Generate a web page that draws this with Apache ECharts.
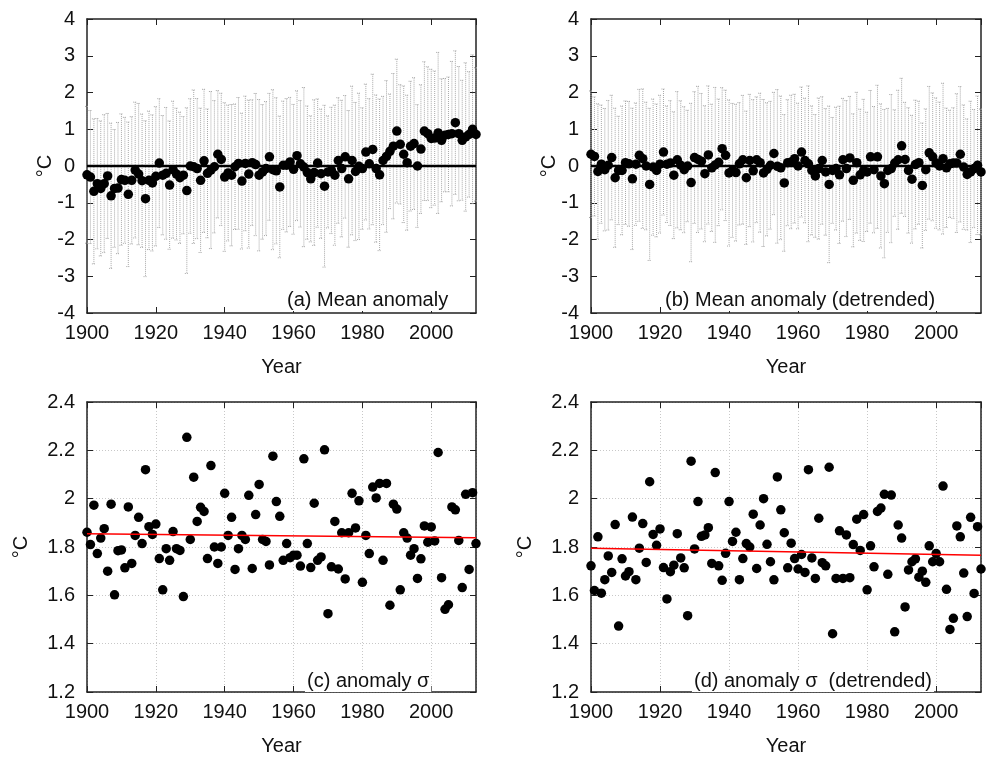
<!DOCTYPE html>
<html>
<head>
<meta charset="utf-8">
<script src="https://cdn.jsdelivr.net/npm/echarts@6/dist/echarts.min.js"></script>
<style>
  html, body { margin: 0; padding: 0; background: #fff; }
  #app { width: 986px; height: 757px; }
</style>
</head>
<body>
<div id="app"></div>
<script>
// years 1900..2013
const firstYear = 1900;
const lastYear = 2013;

// (a) mean anomaly, one value per year
const meanAnomaly = [
  -0.24, -0.30, -0.69, -0.48, -0.61, -0.48, -0.27, -0.81, -0.61, -0.60,
  -0.37, -0.39, -0.77, -0.39, -0.11, -0.22, -0.40, -0.89, -0.39, -0.46,
  -0.28, 0.08, -0.25, -0.20, -0.52, -0.10, -0.22, -0.32, -0.25, -0.67,
  0.00, -0.02, -0.07, -0.39, 0.14, -0.20, -0.11, -0.02, 0.32, 0.18,
  -0.30, -0.19, -0.25, -0.02, 0.07, -0.41, 0.07, -0.22, 0.09, 0.04,
  -0.25, -0.16, -0.07, 0.25, -0.10, -0.13, -0.57, 0.02, 0.02, 0.11,
  -0.09, 0.28, 0.06, -0.03, -0.18, -0.35, -0.18, 0.08, -0.21, -0.55,
  -0.16, -0.12, -0.25, 0.15, -0.07, 0.25, -0.35, 0.15, -0.15, -0.01,
  -0.07, 0.38, 0.06, 0.45, -0.07, -0.24, 0.15, 0.26, 0.40, 0.54,
  0.95, 0.59, 0.32, 0.09, 0.54, 0.61, 0.00, 0.46, 0.95, 0.88,
  0.75, 0.76, 0.90, 0.70, 0.84, 0.86, 0.88, 1.18, 0.88, 0.70,
  0.79, 0.86, 1.00, 0.86
];

// (b) mean anomaly, detrended
const meanDetrended = [
  0.32, 0.26, -0.15, 0.05, -0.10, 0.02, 0.23, -0.32, -0.12, -0.12,
  0.09, 0.06, -0.35, 0.05, 0.29, 0.20, 0.00, -0.50, -0.03, -0.12,
  0.05, 0.38, 0.05, 0.08, -0.25, 0.17, 0.02, -0.10, 0.00, -0.45,
  0.23, 0.18, 0.13, -0.21, 0.30, -0.05, 0.03, 0.10, 0.47, 0.29,
  -0.19, -0.12, -0.18, 0.06, 0.17, -0.32, 0.15, -0.13, 0.17, 0.09,
  -0.19, -0.09, 0.02, 0.34, -0.01, -0.05, -0.46, 0.09, 0.11, 0.20,
  0.00, 0.38, 0.15, 0.06, -0.12, -0.27, -0.07, 0.15, -0.16, -0.50,
  -0.12, -0.07, -0.24, 0.17, -0.07, 0.22, -0.39, 0.09, -0.24, -0.12,
  -0.16, 0.25, -0.10, 0.25, -0.27, -0.48, -0.12, -0.07, 0.08, 0.17,
  0.55, 0.18, -0.12, -0.36, 0.04, 0.09, -0.53, -0.10, 0.36, 0.25,
  0.08, 0.00, 0.20, -0.05, 0.06, 0.08, 0.08, 0.32, -0.03, -0.23,
  -0.16, -0.07, 0.02, -0.16
];

// (c) anomaly sigma
const sigmaAnomaly = [
  1.861, 1.810, 1.973, 1.773, 1.837, 1.876, 1.700, 1.977, 1.602, 1.785,
  1.788, 1.714, 1.966, 1.732, 1.848, 1.923, 1.814, 2.120, 1.884, 1.852,
  1.895, 1.752, 1.623, 1.793, 1.745, 1.864, 1.793, 1.786, 1.595, 2.254,
  1.831, 2.089, 1.906, 1.964, 1.947, 1.752, 2.137, 1.800, 1.732, 1.800,
  2.022, 1.848, 1.923, 1.707, 1.793, 1.848, 1.831, 2.014, 1.711, 1.934,
  2.059, 1.831, 1.823, 1.726, 2.176, 1.988, 1.927, 1.745, 1.814, 1.756,
  1.766, 1.766, 1.721, 2.165, 1.814, 1.715, 1.981, 1.745, 1.759, 2.202,
  1.524, 1.718, 1.906, 1.709, 1.859, 1.668, 1.859, 2.022, 1.879, 1.991,
  1.654, 1.848, 1.773, 2.048, 2.003, 2.063, 1.745, 2.063, 1.559, 1.977,
  1.957, 1.623, 1.859, 1.837, 1.766, 1.793, 1.670, 1.751, 1.887, 1.820,
  1.883, 1.825, 2.191, 1.673, 1.542, 1.561, 1.966, 1.954, 1.827, 1.632,
  2.018, 1.707, 2.025, 1.814
];

// (d) anomaly sigma, detrended
const sigmaDetrended = [
  1.722, 1.620, 1.842, 1.609, 1.665, 1.763, 1.695, 1.893, 1.473, 1.751,
  1.680, 1.698, 1.924, 1.665, 1.795, 1.897, 1.736, 2.070, 1.852, 1.807,
  1.875, 1.715, 1.585, 1.698, 1.725, 1.855, 1.755, 1.714, 1.516, 2.155,
  1.792, 1.988, 1.844, 1.850, 1.880, 1.732, 2.108, 1.722, 1.662, 1.774,
  1.988, 1.823, 1.861, 1.665, 1.752, 1.814, 1.800, 1.936, 1.711, 1.891,
  2.000, 1.811, 1.739, 1.664, 2.090, 1.954, 1.859, 1.714, 1.816, 1.752,
  1.709, 1.769, 1.695, 2.120, 1.755, 1.670, 1.919, 1.735, 1.722, 2.130,
  1.441, 1.670, 1.867, 1.670, 1.850, 1.673, 1.810, 1.915, 1.786, 1.934,
  1.623, 1.805, 1.718, 1.947, 1.961, 2.018, 1.687, 2.015, 1.449, 1.891,
  1.837, 1.552, 1.705, 1.739, 1.751, 1.675, 1.700, 1.654, 1.805, 1.739,
  1.773, 1.739, 2.052, 1.625, 1.459, 1.505, 1.887, 1.842, 1.692, 1.512,
  1.923, 1.608, 1.884, 1.709
];

// red trend lines, value at first and last year
const trendSigma = [1.855, 1.838];
const trendSigmaDetrended = [1.795, 1.766];

const panelLabels = ['(a) Mean anomaly', '(b) Mean anomaly (detrended)', '(c) anomaly \u03c3', '(d) anomaly \u03c3  (detrended)'];

const years = [];
for (let y = firstYear; y <= lastYear; y++) years.push(y);

const FONT = '"Liberation Sans", Arial, Helvetica, sans-serif';
const chart = echarts.init(document.getElementById('app'));

const grids = [
  {left: 87, top: 19, width: 389, height: 294},
  {left: 591, top: 19, width: 390, height: 294},
  {left: 87, top: 402, width: 389, height: 293},
  {left: 591, top: 402, width: 390, height: 293}
];

const tickStyle = {inside: true, length: 6, lineStyle: {color: '#222', width: 1}};
const lineStyle = {color: '#222', width: 1.5};
const gridLine = {show: true, lineStyle: {color: '#c8c8c8', type: [1, 2], width: 1}};

const xAxes = [];
const yAxes = [];
grids.forEach((g, i) => {
  const bottomPanel = i >= 2;
  xAxes.push({
    gridIndex: i, type: 'value', min: firstYear, max: lastYear, interval: 20,
    name: 'Year', nameLocation: 'middle', nameGap: 44,
    nameTextStyle: {fontSize: 20, fontFamily: FONT, color: '#111'},
    axisLine: {show: true, onZero: false, lineStyle},
    axisTick: tickStyle,
    axisLabel: {
      fontSize: 20, fontFamily: FONT, color: '#111', margin: 10, showMaxLabel: false,
      formatter: v => (v % 20 === 0 ? String(v) : '')
    },
    splitLine: bottomPanel ? gridLine : {show: false}
  });
  xAxes.push({
    gridIndex: i, type: 'value', position: 'top', min: firstYear, max: lastYear, interval: 20,
    axisLine: {show: true, onZero: false, lineStyle},
    axisTick: tickStyle, axisLabel: {show: false}, splitLine: {show: false}
  });
  const yRange = bottomPanel ? {min: 1.2, max: 2.4, interval: 0.2} : {min: -4, max: 4, interval: 1};
  yAxes.push(Object.assign({
    gridIndex: i, type: 'value',
    name: '\u00b0C', nameLocation: 'middle', nameMoveOverlap: false,
    nameGap: bottomPanel ? 56 : 32,
    nameTextStyle: {fontSize: 20, fontFamily: FONT, color: '#111'},
    axisLine: {show: true, onZero: false, lineStyle},
    axisTick: tickStyle,
    axisLabel: {fontSize: 20, fontFamily: FONT, color: '#111', margin: 12},
    splitLine: bottomPanel ? gridLine : {show: false}
  }, yRange));
  yAxes.push(Object.assign({
    gridIndex: i, type: 'value', position: 'right',
    axisLine: {show: true, onZero: false, lineStyle},
    axisTick: tickStyle, axisLabel: {show: false}, splitLine: {show: false}
  }, yRange));
});

// gray dotted error bars: mean +- sigma
function errorBar(params, api) {
  const x = api.value(0);
  const top = api.coord([x, api.value(2)]);
  const bot = api.coord([x, api.value(1)]);
  const style = {stroke: '#a8a8a8', lineWidth: 1, lineDash: [1, 1]};
  return {
    type: 'group',
    children: [
      {type: 'line', shape: {x1: top[0], y1: top[1], x2: bot[0], y2: bot[1]}, style},
      {type: 'line', shape: {x1: top[0] - 2, y1: top[1], x2: top[0] + 2, y2: top[1]}, style},
      {type: 'line', shape: {x1: bot[0] - 2, y1: bot[1], x2: bot[0] + 2, y2: bot[1]}, style}
    ]
  };
}

const dotStyle = {color: '#000', opacity: 1};

const series = [];
const addMeanPanel = (i, means, sigmas) => {
  series.push({
    type: 'custom', xAxisIndex: 2 * i, yAxisIndex: 2 * i, z: 1, silent: true,
    renderItem: errorBar,
    encode: {x: 0, y: [1, 2]},
    data: years.map((y, k) => [y, means[k] - sigmas[k], means[k] + sigmas[k]])
  });
  series.push({
    type: 'line', xAxisIndex: 2 * i, yAxisIndex: 2 * i, z: 2, symbol: 'none', silent: true,
    lineStyle: {color: '#000', width: 2.5},
    data: [[firstYear, 0], [lastYear, 0]]
  });
  series.push({
    type: 'scatter', xAxisIndex: 2 * i, yAxisIndex: 2 * i, z: 3, symbolSize: 9.5,
    itemStyle: dotStyle,
    data: years.map((y, k) => [y, means[k]])
  });
};
const addSigmaPanel = (i, sigmas, trend) => {
  series.push({
    type: 'scatter', xAxisIndex: 2 * i, yAxisIndex: 2 * i, z: 3, symbolSize: 9.5,
    itemStyle: dotStyle,
    data: years.map((y, k) => [y, sigmas[k]])
  });
  series.push({
    type: 'line', xAxisIndex: 2 * i, yAxisIndex: 2 * i, z: 4, symbol: 'none', silent: true,
    lineStyle: {color: '#ff0000', width: 1.5},
    data: [[firstYear, trend[0]], [lastYear, trend[1]]]
  });
};
addMeanPanel(0, meanAnomaly, sigmaAnomaly);
addMeanPanel(1, meanDetrended, sigmaDetrended);
addSigmaPanel(2, sigmaAnomaly, trendSigma);
addSigmaPanel(3, sigmaDetrended, trendSigmaDetrended);

const labelPos = [[285, 289], [663, 289], [305, 670], [692, 670]];
const graphic = panelLabels.map((text, i) => ({
  type: 'text', left: labelPos[i][0], top: labelPos[i][1], z: 100,
  style: {text, font: '20px ' + FONT, fill: '#111', backgroundColor: '#fff', padding: [1, 2]}
}));

chart.setOption({
  animation: false,
  grid: grids,
  xAxis: xAxes,
  yAxis: yAxes,
  series,
  graphic
});
</script>
</body>
</html>
